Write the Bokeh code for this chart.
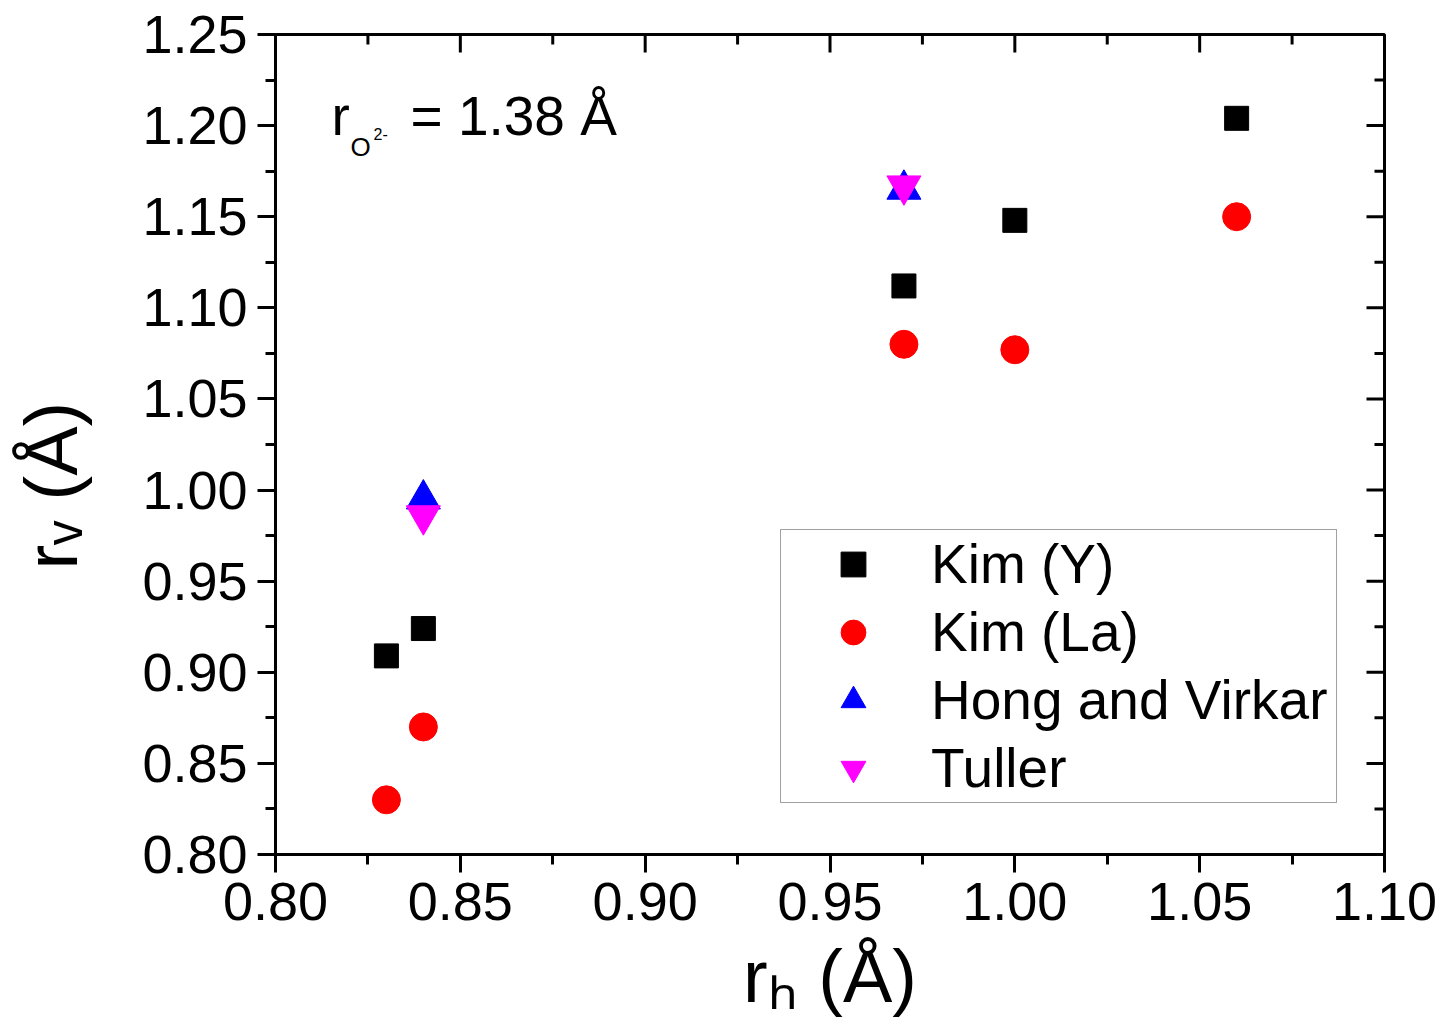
from bokeh.embed import file_html
from bokeh.models import FixedTicker, Label, Legend, LegendItem, Range1d
from bokeh.plotting import figure
from bokeh.resources import INLINE

# ---- data -------------------------------------------------------------
x_ticks = [0.80, 0.85, 0.90, 0.95, 1.00, 1.05, 1.10]
x_tick_labels = ["0.80", "0.85", "0.90", "0.95", "1.00", "1.05", "1.10"]
x_minor = [0.825, 0.875, 0.925, 0.975, 1.025, 1.075]

y_ticks = [0.80, 0.85, 0.90, 0.95, 1.00, 1.05, 1.10, 1.15, 1.20, 1.25]
y_tick_labels = ["0.80", "0.85", "0.90", "0.95", "1.00", "1.05", "1.10", "1.15", "1.20", "1.25"]
y_minor = [0.825, 0.875, 0.925, 0.975, 1.025, 1.075, 1.125, 1.175, 1.225]

kim_y_rh = [0.83, 0.84, 0.97, 1.00, 1.06]
kim_y_rv = [0.909, 0.924, 1.112, 1.148, 1.204]

kim_la_rh = [0.83, 0.84, 0.97, 1.00, 1.06]
kim_la_rv = [0.830, 0.870, 1.080, 1.077, 1.150]

hong_rh = [0.84, 0.97]
hong_rv = [0.995, 1.165]

tuller_rh = [0.84, 0.97]
tuller_rv = [0.986, 1.167]

x_title = "r\u2095 (Å)"                 # r with subscript h
y_title = "r\u1d65 (Å)" + "\u00a0" * 4  # r with subscript v

# ---- layout -----------------------------------------------------------
W, H = 1442, 1035
FL, FR, FT, FB = 275, 1384, 34, 854
X0, X1 = 0.80, 1.10
Y0, Y1 = 0.80, 1.25
FONT = "Liberation Sans"
PX_X = (X1 - X0) / (FR - FL)   # data units per pixel, horizontal
PX_Y = (Y1 - Y0) / (FB - FT)   # data units per pixel, vertical


def dx(px):
    return X0 + (px - FL) * PX_X


def dy(py):
    return Y0 + (FB - py) * PX_Y


p = figure(
    width=W, height=H,
    output_backend="svg", toolbar_location=None,
    x_range=Range1d(X0, X1), y_range=Range1d(Y0, Y1),
    min_border_left=FL, min_border_right=W - FR,
    min_border_top=FT, min_border_bottom=H - FB,
)
p.outline_line_color = "black"
p.outline_line_width = 3
p.xgrid.visible = False
p.ygrid.visible = False
p.background_fill_color = "white"
p.border_fill_color = "white"


def style_axis(ax, ticks, minor, labels, title, title_standoff):
    ax.ticker = FixedTicker(ticks=ticks, minor_ticks=minor)
    ax.axis_line_width = 3
    ax.axis_line_color = "black"
    ax.major_tick_line_width = 3
    ax.minor_tick_line_width = 3
    ax.major_tick_line_color = "black"
    ax.minor_tick_line_color = "black"
    ax.major_tick_out, ax.major_tick_in = 18, 0
    ax.minor_tick_out, ax.minor_tick_in = 10, 0
    ax.major_label_overrides = {t: s for t, s in zip(ticks, labels)}
    ax.major_label_text_font = FONT
    ax.major_label_text_font_size = "54px"
    ax.major_label_text_color = "black"
    ax.major_label_standoff = 10
    ax.axis_label = title
    ax.axis_label_text_font = FONT
    ax.axis_label_text_font_size = "74px"
    ax.axis_label_text_font_style = "normal"
    ax.axis_label_text_color = "black"
    ax.axis_label_standoff = title_standoff


style_axis(p.xaxis[0], x_ticks, x_minor, x_tick_labels, x_title, 12)
style_axis(p.yaxis[0], y_ticks, y_minor, y_tick_labels, y_title, 46)

# mirrored inward ticks on the top and right edges of the frame
MAJ, MIN = 18, 10
p.segment(x0=x_ticks, y0=[Y1] * len(x_ticks), x1=x_ticks,
          y1=[Y1 - MAJ * PX_Y] * len(x_ticks), line_color="black", line_width=3)
p.segment(x0=x_minor, y0=[Y1] * len(x_minor), x1=x_minor,
          y1=[Y1 - MIN * PX_Y] * len(x_minor), line_color="black", line_width=3)
p.segment(x0=[X1] * len(y_ticks), y0=y_ticks, x1=[X1 - MAJ * PX_X] * len(y_ticks),
          y1=y_ticks, line_color="black", line_width=3)
p.segment(x0=[X1] * len(y_minor), y0=y_minor, x1=[X1 - MIN * PX_X] * len(y_minor),
          y1=y_minor, line_color="black", line_width=3)

# ---- markers ----------------------------------------------------------
r_kim_y = p.scatter(kim_y_rh, kim_y_rv, marker="square", size=24,
                    fill_color="black", line_color="black", line_width=1)
r_kim_la = p.scatter(kim_la_rh, kim_la_rv, marker="circle", size=28,
                     fill_color="red", line_color="red", line_width=1)
r_hong = p.scatter(hong_rh, hong_rv, marker="triangle", size=34,
                   fill_color="blue", line_color="blue", line_width=1)
r_tuller = p.scatter(tuller_rh, tuller_rv, marker="inverted_triangle", size=34,
                     fill_color="magenta", line_color="magenta", line_width=1)

legend = Legend(
    items=[
        LegendItem(label="Kim (Y)", renderers=[r_kim_y]),
        LegendItem(label="Kim (La)", renderers=[r_kim_la]),
        LegendItem(label="Hong and Virkar", renderers=[r_hong]),
        LegendItem(label="Tuller", renderers=[r_tuller]),
    ],
    location=(780 - FL, FB - 803),
    label_text_font=FONT, label_text_font_size="55px", label_text_color="black",
    padding=0, spacing=0, margin=0,
    glyph_width=144, glyph_height=62, label_height=68, label_width=405,
    label_standoff=6,
    border_line_color="#444444", border_line_width=1.5,
    background_fill_color="white", background_fill_alpha=1,
)
p.add_layout(legend)


# ---- annotation ---------------------------------------------------------
def add_text(text, px, py, size):
    """Place a text whose alphabetic baseline starts at pixel (px, py)."""
    p.add_layout(Label(
        x=dx(px), y=dy(py - 0.35 * size), x_units="data", y_units="data",
        text=text, text_font=FONT, text_font_size=f"{size}px",
        text_color="black", text_align="left", text_baseline="middle",
    ))


# oxygen ion radius
add_text("r", 331, 135, 55)
add_text("O", 350, 156, 26)
add_text("2-", 373, 139, 16)
add_text("= 1.38 Å", 410, 135, 55)

open("out.html", "w").write(file_html(p, INLINE))
